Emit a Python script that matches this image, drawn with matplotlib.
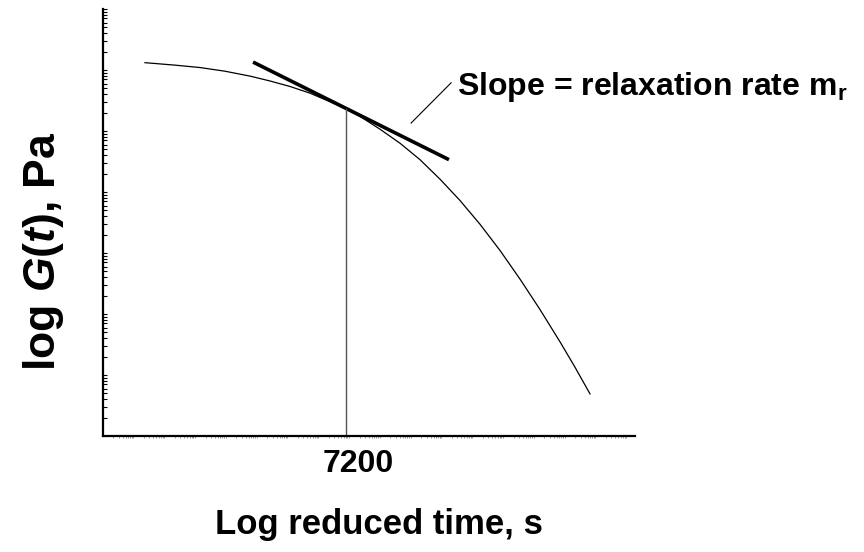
import numpy as np
import matplotlib
matplotlib.use("Agg")
import matplotlib.pyplot as plt
import matplotlib.transforms as mtransforms
from matplotlib.ticker import LogLocator, NullFormatter

plt.rcParams["font.family"] = ["Liberation Sans", "DejaVu Sans"]
plt.rcParams["font.weight"] = "bold"
plt.rcParams["mathtext.fontset"] = "custom"
plt.rcParams["mathtext.rm"] = "Liberation Sans:bold"
plt.rcParams["mathtext.it"] = "Liberation Sans:bold:italic"
plt.rcParams["mathtext.bf"] = "Liberation Sans:bold"

# master curve (log10 units)
log_t = [-2.67, -1.70, -0.88, -0.07, 0.74, 1.39, 2.04, 2.69, 3.34, 3.857, 4.31, 4.96,
         5.61, 6.26, 6.91, 7.56, 8.21, 8.86, 9.51, 10.16, 10.81, 11.29, 11.78]
log_G = [6.12, 6.08, 6.04, 5.98, 5.90, 5.82, 5.73, 5.62, 5.48, 5.36, 5.24, 5.03,
         4.80, 4.53, 4.21, 3.86, 3.47, 3.04, 2.57, 2.07, 1.54, 1.13, 0.69]

# tangent line at the reference time
tan_log_t = [0.84, 7.20]
tan_log_G = [6.13, 4.53]

t_ref = 7200
G_ref_log = 5.36

# leader line for the annotation
lead_log_t = [5.97, 7.27]
lead_log_G = [5.13, 5.79]

fig = plt.figure(figsize=(8.64, 5.52), dpi=100)
ax = fig.add_axes([103 / 864, (552 - 436) / 552, (635 - 103) / 864, (436 - 9) / 552])

ax.plot(10 ** np.array(log_t), 10 ** np.array(log_G), color="black", lw=0.9)
ax.plot(10 ** np.array(tan_log_t), 10 ** np.array(tan_log_G), color="black", lw=2.6,
        solid_capstyle="butt")
ax.plot([t_ref, t_ref], [1, 10 ** G_ref_log], color="#555555", lw=1.0)
ax.plot(10 ** np.array(lead_log_t), 10 ** np.array(lead_log_G), color="black", lw=0.8)

ax.text(10 ** 7.46, 10 ** 5.59, r"Slope = relaxation rate m$_\mathregular{r}$",
        ha="left", va="baseline", fontsize=23, fontweight="bold")

ax.set_xscale("log")
ax.set_yscale("log")
xl0 = np.log10(t_ref) - (346 - 103) / 30.8
xl1 = np.log10(t_ref) + (635 - 346) / 30.8
ax.set_xlim(10 ** xl0, 10 ** xl1)
ax.set_ylim(1, 1e7)

for s in ["top", "right"]:
    ax.spines[s].set_visible(False)
for s in ["left", "bottom"]:
    ax.spines[s].set_linewidth(1.6)

# y: log ticks inside, no labels
ax.yaxis.set_major_locator(LogLocator(base=10, numticks=20))
ax.yaxis.set_minor_locator(LogLocator(base=10, subs=np.arange(2, 10), numticks=100))
ax.yaxis.set_major_formatter(NullFormatter())
ax.yaxis.set_minor_formatter(NullFormatter())
ax.tick_params(axis="y", which="both", direction="in", length=3, width=0.8)

# x: faint minor log ticks and one labelled tick
ax.set_xticks([t_ref])
ax.set_xticklabels(["7200"])
ax.xaxis.set_minor_locator(LogLocator(base=10, subs=np.arange(2, 10), numticks=100))
ax.xaxis.set_minor_formatter(NullFormatter())
ax.tick_params(axis="x", which="major", length=0, pad=9, labelsize=23)
ax.tick_params(axis="x", which="minor", direction="out", length=1.5, width=0.6, color="#888888")
for lab in ax.get_xticklabels():
    lab.set_fontweight("bold")
    lab.set_transform(lab.get_transform() + mtransforms.ScaledTranslation(12 / 100, 0, fig.dpi_scale_trans))

ax.set_xlabel("Log reduced time, s", fontsize=25, fontweight="bold")
ax.xaxis.set_label_coords((379 - 103) / 532, (436 - 508) / 427)
ax.set_ylabel(r"log $\mathit{G}$($\mathit{t}$), Pa", fontsize=32, fontweight="bold")
ax.yaxis.set_label_coords((66 - 103) / 532, (436 - 251) / 427)

fig.savefig("out.png", dpi=100)
